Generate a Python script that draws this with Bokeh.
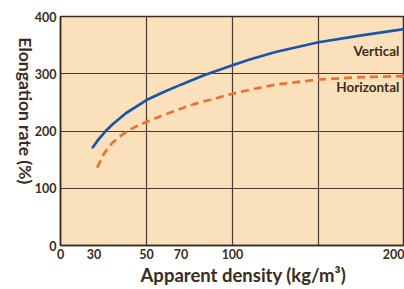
import math
from bokeh.plotting import figure
from bokeh.models import Range1d, FixedTicker, Label
from bokeh.embed import file_html
from bokeh.resources import INLINE

# data
vert_x = [18.4, 22, 26, 30, 38, 50, 60, 70, 83, 100, 110, 125, 150, 175, 200]
vert_y = [170, 185, 199, 211, 231, 254, 268, 281, 297, 315, 325, 338, 355, 367, 378]
horz_x = [21.3, 25.2, 30, 36, 42.6, 50, 60, 77.5, 100, 110, 125, 150, 175, 200]
horz_y = [136, 160, 179, 194, 206, 216, 228, 247, 265, 272, 281, 290, 294, 296]

x_ticks = [0, 19.5, 50, 70, 100, 200]
x_tick_labels = {0: "0", 19.5: "30", 50: "50", 70: "70", 100: "100", 200: "200"}
y_ticks = [0, 100, 200, 300, 400]
x_grid = [50, 100, 150, 200]
y_grid = [100, 200, 300, 400]

TXT = "#3a2c22"
FONT = "Lato"
NB = "\u00a0"
EM = "\u2003"
EN = "\u2002"

p = figure(width=404, height=289, output_backend="svg", toolbar_location=None,
           x_range=Range1d(0, 200), y_range=Range1d(0, 400),
           min_border_left=60, min_border_right=0, min_border_top=16, min_border_bottom=44)
p.background_fill_color = "#fae1bc"
p.border_fill_color = "white"
p.outline_line_color = "#3a2c22"
p.outline_line_width = 1.5

p.xgrid.ticker = FixedTicker(ticks=x_grid)
p.ygrid.ticker = FixedTicker(ticks=y_grid)
for g in (p.xgrid, p.ygrid):
    g.grid_line_color = "#4a3b30"
    g.grid_line_width = 1.2
    g.grid_line_alpha = 1.0

p.xaxis.ticker = FixedTicker(ticks=x_ticks)
p.xaxis.major_label_overrides = x_tick_labels
p.yaxis.ticker = FixedTicker(ticks=y_ticks)
for ax in (p.xaxis, p.yaxis):
    ax.axis_line_color = "#3a2c22"
    ax.axis_line_width = 1.5
    ax.major_tick_line_color = None
    ax.minor_tick_line_color = None
    ax.major_tick_out = 0
    ax.major_tick_in = 0
    ax.major_label_text_font = FONT
    ax.major_label_text_font_size = "12.5px"
    ax.major_label_text_font_style = "bold"
    ax.major_label_text_color = TXT
p.xaxis.major_label_standoff = 3
p.yaxis.major_label_standoff = 4

p.xaxis.axis_label = NB * 5 + "Apparent density (kg/m³)"
p.xaxis.axis_label_text_font = FONT
p.xaxis.axis_label_text_font_size = "18.5px"
p.xaxis.axis_label_text_font_style = "bold"
p.xaxis.axis_label_text_color = TXT
p.xaxis.axis_label_standoff = 2

p.yaxis.axis_label = "Elongation rate (%)" + EM * 4 + EN
p.yaxis.axis_label_text_font = FONT
p.yaxis.axis_label_text_font_size = "17.5px"
p.yaxis.axis_label_text_font_style = "bold"
p.yaxis.axis_label_text_color = TXT
p.yaxis.axis_label_standoff = 6
p.yaxis.axis_label_orientation = -math.pi / 2
p.yaxis.axis_label_align = "start"

p.line(vert_x, vert_y, line_color="#1a56a8", line_width=2.7)
p.line(horz_x, horz_y, line_color="#f07030", line_width=2.7, line_dash="8 5")

p.add_layout(Label(x=197, y=340, text="Vertical", text_align="right", text_baseline="middle",
                   text_font=FONT, text_font_size="13.5px", text_font_style="bold", text_color=TXT))
p.add_layout(Label(x=197, y=276, text="Horizontal", text_align="right", text_baseline="middle",
                   text_font=FONT, text_font_size="13.5px", text_font_style="bold", text_color=TXT))

open("out.html", "w").write(file_html(p, INLINE))
